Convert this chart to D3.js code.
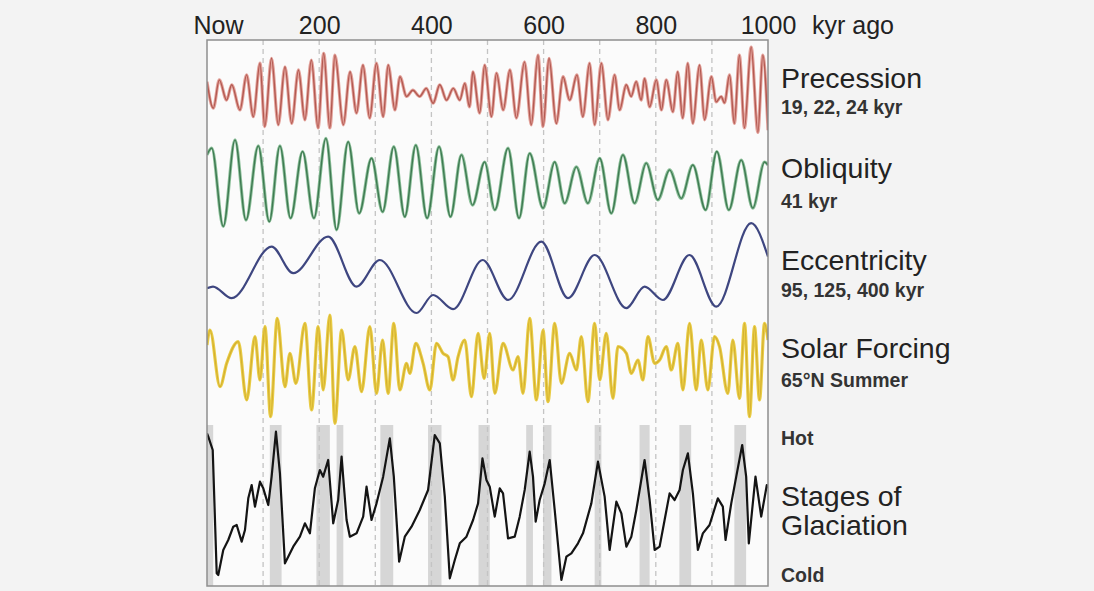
<!DOCTYPE html>
<html><head><meta charset="utf-8">
<script src="https://cdn.jsdelivr.net/npm/d3@7"></script>
<style>
html,body{margin:0;padding:0;background:#f3f3f3;}
svg{display:block;font-family:"Liberation Sans",Arial,sans-serif;}
</style></head>
<body><svg id="chart" width="1094" height="591"></svg>
<script>
// ---- Data (kyr before present, value) ----
const ageTicks = [0, 200, 400, 600, 800, 1000];
const ageTickLabels = ["Now", "200", "400", "600", "800", "1000"];
const gridAges = [100, 200, 300, 400, 500, 600, 700, 800, 900];

// Precession index (normalized)
const precession = [[0,0.23],[11.3,-0.36],[21.9,0.27],[35,-0.18],[44,0.16],[58.8,-0.4],[70.6,0.38],[82.5,-0.55],[94.4,0.64],[103,-0.77],[115,0.75],[127,-0.73],[139,0.56],[151,-0.7],[163,0.49],[174.5,-0.62],[186,0.71],[198,-0.8],[208,0.86],[219,-0.8],[228,0.82],[243,-0.73],[255,0.45],[266.5,-0.47],[278,0.6],[290,-0.58],[302,0.64],[314,-0.55],[323,0.6],[335,-0.4],[344,0.34],[355.6,-0.1],[367,0.04],[379,-0.1],[391,0.08],[403,-0.25],[415,0.16],[427,-0.18],[439,0.08],[450.6,-0.18],[459.5,0.19],[468,-0.33],[474,0.45],[486,-0.47],[495,0.6],[507,-0.55],[516,0.42],[528,-0.4],[540,0.49],[551.5,-0.58],[566,0.67],[578,-0.73],[590,0.82],[599,-0.77],[609.7,0.75],[622.7,-0.7],[634.6,0.34],[646.5,-0.18],[659.5,0.38],[670,-0.55],[682,0.64],[691,-0.73],[703,0.64],[714.7,-0.62],[726.6,0.38],[735.5,-0.4],[747.4,0.16],[756,-0.1],[765,0.23],[774,-0.18],[780,0.3],[789,-0.33],[801,0.27],[810,-0.4],[818.7,0.27],[830.5,-0.44],[839,0.45],[848,-0.58],[857,0.64],[866,-0.7],[878,0.6],[887,-0.62],[899,0.34],[907.7,-0.22],[916.6,-0.1],[922.5,-0.24],[931.5,0.38],[940,-0.7],[949,0.82],[958,-0.8],[970,1.0],[982,-0.9],[990.7,0.82],[1000,-0.85]];

// Obliquity (degrees)
const obliquity = [[0,24.05],[8.4,24.23],[29,22.14],[49.9,24.45],[69.5,22.31],[91.4,24.29],[111,22.27],[130,24.29],[149,22.36],[170.4,24.14],[190.6,22.36],[212,24.49],[231,22.05],[251.6,24.40],[271.2,22.49],[293.3,23.96],[313,22.53],[333,24.27],[352.6,22.40],[372.2,24.31],[392.3,22.36],[413.7,24.27],[434,22.40],[453.6,24.05],[473.2,22.71],[495,23.86],[513,22.58],[536.6,24.23],[556.2,22.36],[575.2,24.09],[599,22.63],[619.8,23.86],[637.6,22.76],[658.4,23.73],[679,22.76],[700,23.96],[720.7,22.49],[741.4,24.05],[762.2,22.76],[783,23.83],[803.7,22.85],[824.6,23.65],[845.4,22.89],[866,23.78],[888.7,22.58],[908.8,24.14],[930.2,22.58],[952.3,23.91],[973,22.63],[993.8,23.86],[1000,23.78]];

// Eccentricity
const eccentricity = [[0,0.0174],[10.7,0.0182],[44,0.0124],[115.2,0.0382],[153.7,0.0249],[216,0.0432],[266.6,0.0182],[308,0.0315],[373.5,0.0050],[403,0.0140],[438.6,0.0069],[491.5,0.0315],[536.6,0.0115],[596,0.0407],[643.5,0.0124],[691,0.0340],[747.5,0.0074],[780,0.0182],[812.6,0.0115],[860,0.0340],[907.8,0.0082],[970,0.0499],[1000,0.0332]];

// Summer insolation 65°N (W/m²)
const insolation = [[0,520],[5.3,538],[23.2,470],[35.1,498],[55.7,524],[70.7,454],[85.5,530],[94.4,478],[103.3,542],[113.4,434],[125.2,552],[139,470],[147.8,510],[158.5,474],[174.5,546],[186.5,442],[198.2,542],[207.1,466],[219,556],[228,426],[240,538],[251.6,478],[263.6,518],[275.5,464],[290.3,542],[302.2,462],[313,526],[322.9,462],[333,546],[343.7,466],[355.7,498],[361.5,486],[372.2,522],[385.2,498],[397.2,466],[409.1,522],[420.8,510],[429.7,506],[438.6,478],[447.6,506],[459.5,526],[471.4,458],[483.2,534],[494,480],[504,534],[513,462],[527.7,522],[545.5,490],[554.4,506],[563.3,462],[575.2,552],[587.2,454],[599,538],[607.8,452],[619.8,546],[631.7,474],[646.5,510],[658.4,490],[667.3,530],[679,452],[691,546],[700,478],[711.8,534],[723.6,456],[732.5,518],[747.5,510],[756.4,486],[768.1,502],[777,478],[786,530],[797.9,498],[806.8,502],[818.7,518],[827.6,490],[839.4,522],[848.3,466],[860.2,546],[872.1,466],[881,526],[892.8,466],[904.7,530],[913.6,518],[928.4,462],[937.3,526],[949.2,456],[958.2,546],[967,434],[976,542],[984.9,454],[993.8,546],[1000,526]];

// Benthic δ18O (‰), low = warm
const glaciation = [[0,3.24],[2.3,3.28],[10.2,3.44],[17.3,4.92],[20.1,4.94],[29,4.64],[37.9,4.52],[46.8,4.36],[52.9,4.34],[61.8,4.54],[67.7,4.40],[73.6,4.02],[79.6,3.86],[85.5,4.12],[94.4,3.82],[100.3,3.90],[109.2,4.10],[115.2,3.76],[122.9,3.22],[130,3.72],[138.9,4.80],[144.8,4.72],[153.7,4.60],[165.6,4.48],[174.5,4.32],[183.4,4.44],[192.3,3.90],[201.2,3.68],[207.1,3.76],[216,3.56],[225,4.32],[233.8,4.04],[239.9,3.52],[248.8,4.28],[254.7,4.48],[266.6,4.44],[278.4,4.24],[284.4,3.88],[293.3,4.28],[302.2,4.08],[314,3.76],[325.9,3.30],[333,3.76],[342.5,4.78],[352.6,4.48],[364.6,4.36],[379.3,4.16],[394.1,3.92],[406,3.26],[415,3.36],[423.9,4.00],[432.8,4.98],[441.7,4.76],[450.6,4.56],[462.5,4.48],[474.3,4.28],[483.2,4.08],[491,3.54],[498.1,3.80],[504,3.88],[509.9,4.12],[512.9,4.24],[521.8,3.90],[527.7,3.96],[536.6,4.50],[548.5,4.48],[557.4,4.24],[566.3,3.92],[575.2,3.46],[581.1,3.76],[585.9,4.30],[593,4.04],[602,3.84],[610.9,3.56],[619.8,4.16],[631.7,5.00],[640.6,4.72],[649.5,4.68],[661.3,4.56],[670.2,4.44],[685.1,4.08],[696.9,3.58],[708.8,4.00],[717.7,4.64],[729.7,4.06],[738.6,4.20],[747.5,4.60],[756.4,4.48],[765.3,4.16],[780,3.56],[789,4.04],[797.9,4.64],[806.8,4.60],[815.7,4.28],[824.6,3.96],[833.5,4.04],[842.4,3.92],[848.3,3.68],[857.2,3.48],[866.1,3.96],[875,4.64],[883.9,4.44],[895.8,4.34],[910.6,4.02],[919.5,4.12],[924.3,4.52],[934.5,4.08],[943.4,3.76],[954,3.38],[961.1,3.76],[965.8,4.56],[977.7,3.76],[987.9,4.24],[997.9,3.86],[1000,3.9]];

// Interglacial bands [start, end] kyr
const interglacials = [[0,11],[112,133],[195,219],[231,243],[309,332],[394,418],[484,504],[569,581],[599,614],[691,703],[771,789],[842,863],[940,961]];

const seriesLabels = [
  {text:"Precession", sub:"19, 22, 24 kyr"},
  {text:"Obliquity", sub:"41 kyr"},
  {text:"Eccentricity", sub:"95, 125, 400 kyr"},
  {text:"Solar Forcing", sub:"65°N Summer"}
];

// ---- Layout ----
const svg = d3.select("#chart");
const L = 207, R = 768, T = 40, B = 586;
const x = d3.scaleLinear().domain([0, 1000]).range([L, R]);

const precY = d3.scaleLinear().domain([-1, 1]).range([137, 47]);
const oblY = d3.scaleLinear().domain([22.1, 24.5]).range([228, 138]);
const eccY = d3.scaleLinear().domain([0.005, 0.05]).range([313, 223]);
const solY = d3.scaleLinear().domain([430, 550]).range([420, 320]);
const glacY = d3.scaleLinear().domain([3.2, 5.0]).range([430, 580]);

// background
svg.append("rect").attr("width",1094).attr("height",591).attr("fill","#f3f3f3");
svg.append("rect").attr("x",L).attr("y",T).attr("width",R-L).attr("height",B-T).attr("fill","#fbfbfb");

svg.append("defs").append("clipPath").attr("id","clip")
  .append("rect").attr("x",L).attr("y",T).attr("width",R-L).attr("height",B-T);

// interglacial bands
svg.append("g").selectAll("rect").data(interglacials).join("rect")
  .attr("x", d => x(d[0])).attr("width", d => x(d[1]) - x(d[0]))
  .attr("y", 425).attr("height", B - 425)
  .attr("fill", "#d6d6d6").attr("clip-path","url(#clip)");

// dashed grid
svg.append("g").selectAll("line").data(gridAges).join("line")
  .attr("x1", d => x(d)).attr("x2", d => x(d))
  .attr("y1", T).attr("y2", B)
  .attr("stroke", "#c4c4c4").attr("stroke-width", 1.3)
  .attr("stroke-dasharray", "5,4");

// curves
function drawSeries(data, yScale, color, width, curve) {
  const line = d3.line().x(d => x(d[0])).y(d => yScale(d[1])).curve(curve);
  svg.append("path").datum(data).attr("d", line)
    .attr("fill","none").attr("stroke", color).attr("stroke-width", width)
    .attr("stroke-linejoin","round").attr("clip-path","url(#clip)");
}
drawSeries(precession, precY, "#e3a29b", 3.2, d3.curveMonotoneX);
drawSeries(precession, precY, "#b35a52", 1.4, d3.curveMonotoneX);
drawSeries(obliquity, oblY, "#8cc09a", 3.2, d3.curveMonotoneX);
drawSeries(obliquity, oblY, "#3f7a52", 1.4, d3.curveMonotoneX);
drawSeries(eccentricity, eccY, "#3e4680", 2.2, d3.curveMonotoneX);
drawSeries(insolation, solY, "#e9cc45", 3.2, d3.curveMonotoneX);
drawSeries(insolation, solY, "#d4b030", 1.2, d3.curveMonotoneX);
drawSeries(glaciation, glacY, "#141414", 2.2, d3.curveLinear);

// frame
svg.append("rect").attr("x",L).attr("y",T).attr("width",R-L).attr("height",B-T)
  .attr("fill","none").attr("stroke","#8e8e8e").attr("stroke-width",1.5);

// top axis
const axis = d3.axisTop(x).tickValues(ageTicks)
  .tickFormat((d,i) => ageTickLabels[i]).tickSize(0).tickPadding(0);
const ax = svg.append("g").attr("transform", `translate(0,${34})`).call(axis);
ax.select(".domain").remove();
ax.selectAll("text").attr("font-size", 25).attr("fill", "#222")
  .attr("font-family", "'Liberation Sans',Arial,sans-serif")
  .attr("dy", 0).attr("dx", d => d === 0 ? 11 : 0);
svg.append("text").attr("x", 812).attr("y", 34).attr("font-size", 25)
  .attr("fill","#222").text("kyr ago");

// right labels
const lab = svg.append("g").attr("fill","#222");
const mainY = [88, 178, 270, 358];
const subY = [114, 208, 297, 387];
seriesLabels.forEach((s, i) => {
  lab.append("text").attr("x", 781).attr("y", mainY[i]).attr("font-size", 28.5).text(s.text);
  lab.append("text").attr("x", 781).attr("y", subY[i]).attr("font-size", 19.5)
    .attr("font-weight","bold").attr("fill","#333").text(s.sub);
});
lab.append("text").attr("x",781).attr("y",445).attr("font-size",19.5).attr("font-weight","bold").attr("fill","#333").text("Hot");
lab.append("text").attr("x",781).attr("y",506).attr("font-size",28.5).text("Stages of");
lab.append("text").attr("x",781).attr("y",535).attr("font-size",28.5).text("Glaciation");
lab.append("text").attr("x",781).attr("y",582).attr("font-size",19.5).attr("font-weight","bold").attr("fill","#333").text("Cold");
</script></body></html>
